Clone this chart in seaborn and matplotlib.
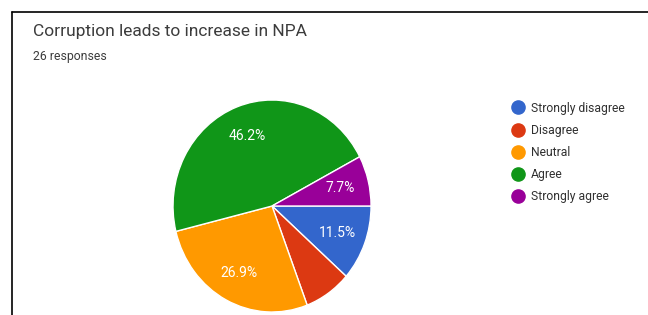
import matplotlib.pyplot as plt
import seaborn as sns
import numpy as np
from matplotlib.lines import Line2D

# data
categories = ['Strongly disagree', 'Disagree', 'Neutral', 'Agree', 'Strongly agree']
responses = [3, 2, 7, 12, 2]
pct_labels = ['11.5%', '', '26.9%', '46.2%', '7.7%']
colors = ['#3366cc', '#dc3912', '#ff9900', '#109618', '#990099']

sns.set_style('white')
plt.rcParams['font.family'] = ['Roboto', 'DejaVu Sans']

fig = plt.figure(figsize=(6.48, 3.15), dpi=100)
pal = sns.color_palette(colors)

# pie (slightly stretched vertically like the screenshot)
ax = fig.add_axes([0.267, 0.0095, 0.3056, 0.673])
wedges, _ = ax.pie(responses, colors=pal, startangle=0, counterclock=False,
                   wedgeprops={'edgecolor': 'white', 'linewidth': 1})
ax.set_aspect('auto')
ax.set_xlim(-1, 1)
ax.set_ylim(-1, 1)

# percentage labels inside slices
total = sum(responses)
start = 0
for w, lab in zip(responses, pct_labels):
    mid = start - w / total * 360 / 2
    start -= w / total * 360
    if lab:
        r = 0.71
        ax.text(r * np.cos(np.radians(mid)), r * np.sin(np.radians(mid)), lab,
                ha='center', va='center', color='white', fontsize=10)

# title
fig.text(0.051, 0.90, 'Corruption leads to increase in NPA', fontsize=12.5,
         color='#3c3c3c', va='center')
fig.text(0.051, 0.82, '26 responses', fontsize=8.8, color='#3c3c3c', va='center')

# legend
handles = [Line2D([], [], marker='o', linestyle='', markersize=9.5,
                  markerfacecolor=c, markeredgecolor=c) for c in pal]
fig.legend(handles, categories, loc='upper left', bbox_to_anchor=(0.772, 0.712),
           frameon=False, fontsize=8.7, labelspacing=0.76, handletextpad=0.45,
           labelcolor='#303030', handlelength=1.2)

# screenshot border
fig.add_artist(Line2D([0.0185, 1], [0.962, 0.962], color='black', linewidth=1.2))
fig.add_artist(Line2D([0.0185, 0.0185], [0, 0.962], color='black', linewidth=1.2))

fig.savefig('out.png', dpi=100)
